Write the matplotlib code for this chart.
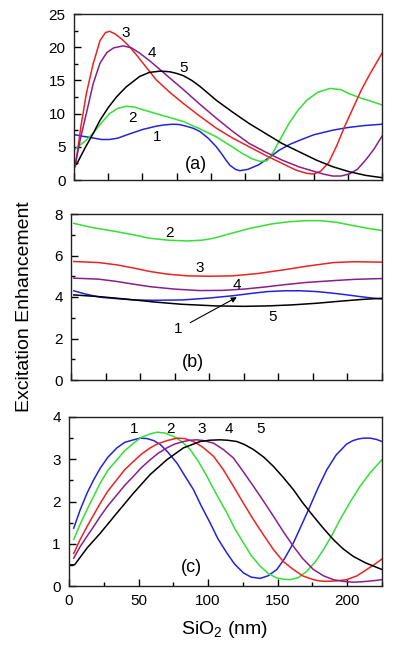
import matplotlib
matplotlib.use("Agg")
import matplotlib.pyplot as plt
from matplotlib.ticker import MultipleLocator, NullFormatter

plt.rcParams['font.family'] = ['Liberation Sans', 'DejaVu Sans']
plt.rcParams['mathtext.fontset'] = 'custom'
plt.rcParams['mathtext.rm'] = 'Liberation Sans'
plt.rcParams['mathtext.it'] = 'Liberation Sans:italic'

# ---------------- data ----------------
# panel (a)
a1_x = [1, 6, 12, 20, 26, 32, 40, 50, 60, 66, 72, 77, 82, 87, 92, 98, 104, 108, 111, 114, 118, 121, 127, 135, 142, 150, 158, 165, 175, 189, 200, 212, 225]
a1_y = [6.8, 6.6, 6.4, 6.1, 6.1, 6.3, 6.9, 7.6, 8.1, 8.3, 8.4, 8.35, 8.1, 7.8, 7.3, 6.3, 5.0, 3.9, 3.0, 2.2, 1.6, 1.4, 1.6, 2.3, 3.3, 4.5, 5.4, 6.0, 6.8, 7.5, 7.9, 8.2, 8.4]
a2_x = [0, 4, 9, 15, 20, 26, 32, 38, 44, 50, 60, 70, 80, 92, 104, 114, 123, 130, 136, 141, 145, 150, 157, 164, 170, 178, 187, 195, 201, 210, 218, 225]
a2_y = [4.5, 5.2, 6.0, 7.3, 8.6, 10.0, 10.8, 11.1, 11.0, 10.6, 10.0, 9.4, 8.8, 7.7, 6.5, 5.2, 4.0, 3.2, 2.8, 2.9, 4.0, 5.9, 8.5, 10.6, 12.0, 13.2, 13.8, 13.6, 13.0, 12.3, 11.8, 11.3]
a3_x = [1, 5, 9, 14, 19, 23, 26, 30, 35, 40, 45, 50, 60, 70, 80, 92, 104, 116, 128, 140, 152, 162, 170, 175, 180, 186, 192, 198, 204, 210, 216, 225]
a3_y = [2.0, 8.0, 13.0, 17.5, 21.0, 22.2, 22.4, 22.0, 21.2, 20.2, 19.0, 17.7, 15.1, 13.2, 11.5, 9.6, 7.8, 6.3, 5.0, 3.7, 2.5, 1.5, 1.0, 0.9, 1.3, 2.6, 5.2, 8.2, 10.9, 13.6, 15.9, 19.1]
a4_x = [1, 5, 9, 14, 19, 24, 29, 36, 42, 48, 55, 63, 72, 80, 92, 104, 116, 128, 140, 152, 164, 177, 183, 189, 195, 201, 207, 213, 219, 225]
a4_y = [2.5, 6.5, 10.0, 14.5, 17.6, 19.2, 19.9, 20.2, 19.9, 19.1, 18.0, 16.6, 15.0, 13.6, 11.4, 9.3, 7.3, 5.5, 4.2, 3.0, 2.0, 1.2, 0.85, 0.6, 0.6, 0.9, 1.6, 3.0, 4.6, 6.6]
a5_x = [2, 8, 14, 19, 25, 31, 38, 48, 55, 63, 70, 75, 80, 86, 92, 104, 116, 128, 140, 152, 165, 177, 189, 201, 213, 225]
a5_y = [2.4, 4.8, 7.0, 9.0, 10.9, 12.5, 14.0, 15.6, 16.2, 16.4, 16.3, 16.05, 15.7, 15.0, 14.1, 12.0, 10.2, 8.5, 7.0, 5.5, 4.2, 3.0, 2.0, 1.25, 0.7, 0.35]

# panel (b)
b1_x = [2, 10, 21, 33, 45, 60, 81, 100, 117, 130, 142, 155, 166, 178, 190, 200, 209, 218, 225]
b1_y = [4.30, 4.15, 3.99, 3.92, 3.86, 3.84, 3.86, 3.95, 4.06, 4.17, 4.26, 4.30, 4.30, 4.26, 4.18, 4.10, 4.02, 3.95, 3.90]
b2_x = [2, 15, 33, 45, 57, 70, 84, 95, 103, 115, 129.5, 145, 158, 170, 180, 192, 202, 213, 225]
b2_y = [7.55, 7.35, 7.15, 7.0, 6.83, 6.74, 6.70, 6.74, 6.83, 7.05, 7.31, 7.52, 7.63, 7.68, 7.68, 7.6, 7.47, 7.33, 7.2]
b3_x = [2, 20, 33, 45, 57, 70, 84, 100, 117, 135, 154, 170, 190, 205, 225]
b3_y = [5.71, 5.66, 5.55, 5.40, 5.23, 5.10, 5.02, 5.00, 5.02, 5.13, 5.31, 5.48, 5.66, 5.70, 5.68]
b4_x = [2, 20, 33, 45, 57, 75, 93, 110, 125, 140, 154, 170, 190, 205, 225]
b4_y = [4.91, 4.86, 4.75, 4.62, 4.50, 4.38, 4.31, 4.32, 4.38, 4.48, 4.59, 4.70, 4.79, 4.85, 4.89]
b5_x = [2, 20, 40, 60, 80, 105, 125, 142, 160, 178, 195, 210, 225]
b5_y = [4.10, 4.02, 3.90, 3.76, 3.65, 3.57, 3.55, 3.57, 3.62, 3.70, 3.80, 3.88, 3.94]

# panel (c)
c1_x = [3.4, 8, 13, 18, 22.5, 28, 34.5, 40, 46.4, 51, 56, 61, 65.6, 71, 77.6, 83, 89.5, 95, 101.5, 107, 113.5, 119, 125.4, 131, 137.4, 143, 149.4, 155, 161.3, 167, 173.3, 179, 185.3, 192, 199.6, 204, 208, 212, 216.4, 221, 225]
c1_y = [1.37, 1.80, 2.20, 2.53, 2.79, 3.05, 3.27, 3.40, 3.46, 3.50, 3.49, 3.44, 3.35, 3.17, 2.91, 2.62, 2.28, 1.90, 1.49, 1.12, 0.78, 0.52, 0.31, 0.21, 0.18, 0.24, 0.39, 0.65, 1.02, 1.43, 1.89, 2.32, 2.75, 3.10, 3.36, 3.44, 3.48, 3.50, 3.50, 3.47, 3.42]
c2_x = [3.4, 8, 13, 18, 22.5, 28, 34.5, 40, 46.4, 52, 58.4, 63.2, 69, 75.2, 81, 87.1, 93, 99.1, 106, 113.5, 119, 125.4, 131, 137.4, 143, 149.4, 154, 159, 165, 171, 177, 182.9, 189, 194.8, 202, 209.2, 217, 225]
c2_y = [1.10, 1.46, 1.81, 2.14, 2.44, 2.74, 2.99, 3.20, 3.38, 3.52, 3.60, 3.64, 3.62, 3.54, 3.42, 3.23, 2.95, 2.60, 2.17, 1.73, 1.37, 1.02, 0.72, 0.47, 0.30, 0.19, 0.16, 0.15, 0.20, 0.35, 0.57, 0.86, 1.20, 1.57, 1.98, 2.36, 2.70, 2.99]
c3_x = [3.4, 8, 13, 18, 22.5, 28, 34.5, 40, 46.4, 52, 58.4, 64, 70.4, 77.6, 83, 89.5, 96, 103.9, 111, 118.2, 125, 132.6, 140, 147, 154, 161.3, 168, 175.7, 180, 185.3, 192, 199.6, 207, 214, 220, 225]
c3_y = [0.77, 1.10, 1.41, 1.70, 1.96, 2.25, 2.52, 2.75, 2.95, 3.12, 3.27, 3.37, 3.44, 3.50, 3.49, 3.42, 3.29, 3.07, 2.75, 2.36, 1.98, 1.57, 1.20, 0.86, 0.58, 0.39, 0.24, 0.15, 0.12, 0.11, 0.12, 0.15, 0.24, 0.39, 0.52, 0.64]
c4_x = [3.4, 8, 13, 18, 22.5, 28, 34.5, 40, 46.4, 52, 58.4, 64, 70.4, 76, 82.3, 87, 91.9, 97, 103.9, 111, 118.2, 125, 132.6, 140, 147, 154, 161.3, 168, 175.7, 183, 190, 197, 204.4, 210, 214, 220, 225]
c4_y = [0.66, 0.93, 1.18, 1.42, 1.65, 1.90, 2.16, 2.38, 2.60, 2.80, 2.99, 3.14, 3.27, 3.36, 3.42, 3.45, 3.46, 3.44, 3.38, 3.23, 3.03, 2.72, 2.36, 2.00, 1.65, 1.29, 0.94, 0.65, 0.39, 0.24, 0.15, 0.11, 0.09, 0.10, 0.11, 0.13, 0.15]
c5_x = [1, 4, 13, 22.5, 34.5, 46.4, 58.4, 70.4, 82.3, 94.3, 101, 108.6, 114, 120.6, 126, 132.6, 140, 147, 154, 161.3, 168, 175.7, 183, 190, 197, 204.4, 213, 225]
c5_y = [0.50, 0.50, 0.90, 1.25, 1.73, 2.20, 2.64, 2.99, 3.27, 3.42, 3.45, 3.46, 3.45, 3.42, 3.35, 3.23, 3.05, 2.83, 2.57, 2.28, 1.97, 1.65, 1.36, 1.10, 0.88, 0.70, 0.55, 0.39]

curve_labels = ['1', '2', '3', '4', '5']
colors = ['#2323dd', '#33e033', '#ee2222', '#8a1f8a', '#000000']

# ---------------- figure ----------------
fig = plt.figure(figsize=(4, 6.5), dpi=100)
W, H = 400, 650

def add_ax(left, top, right, bottom):
    return fig.add_axes([left / W, 1 - bottom / H, (right - left) / W, (bottom - top) / H])

axA = add_ax(74, 14, 382, 180)
axB = add_ax(71, 214, 382, 380)
axC = add_ax(69, 417, 382, 586)

panels = [
    (axA, [(a1_x, a1_y), (a2_x, a2_y), (a3_x, a3_y), (a4_x, a4_y), (a5_x, a5_y)]),
    (axB, [(b1_x, b1_y), (b2_x, b2_y), (b3_x, b3_y), (b4_x, b4_y), (b5_x, b5_y)]),
    (axC, [(c1_x, c1_y), (c2_x, c2_y), (c3_x, c3_y), (c4_x, c4_y), (c5_x, c5_y)]),
]
for ax, series in panels:
    for (xs, ys), col in zip(series, colors):
        ax.plot(xs, ys, color=col, lw=1.1, solid_joinstyle='round')
    ax.set_xlim(0, 225)
    for s in ax.spines.values():
        s.set_linewidth(1.0)
        s.set_color('#222222')
    ax.tick_params(which='both', direction='in', top=False, right=False,
                   labelsize=11, width=1.0, pad=6)
    ax.tick_params(which='major', length=5)
    ax.tick_params(which='minor', length=3)

# panel (a)
axA.set_ylim(0, 25)
axA.yaxis.set_major_locator(MultipleLocator(5))
axA.yaxis.set_minor_locator(MultipleLocator(2.5))
axA.xaxis.set_major_locator(MultipleLocator(25))
axA.xaxis.set_major_formatter(NullFormatter())
for t, (x, y) in zip(['3', '4', '5', '2', '1'], [(38, 22.2), (56.6, 19.2), (80.4, 16.9), (42.8, 9.3), (61, 6.5)]):
    axA.text(x, y, t, fontsize=11, ha='center', va='center')
axA.text(89, 2.4, '(a)', fontsize=13, ha='center', va='center')

# panel (b)
axB.set_ylim(0, 8)
axB.yaxis.set_major_locator(MultipleLocator(2))
axB.yaxis.set_minor_locator(MultipleLocator(1))
axB.xaxis.set_major_locator(MultipleLocator(25))
axB.xaxis.set_major_formatter(NullFormatter())
for t, (x, y) in zip(['2', '3', '4', '5'], [(71.6, 7.1), (93.3, 5.39), (120, 4.58), (146, 3.03)]):
    axB.text(x, y, t, fontsize=11, ha='center', va='center')
axB.annotate('1', xy=(120, 3.99), xytext=(77.6, 2.45), fontsize=11, ha='center', va='center',
             arrowprops=dict(arrowstyle='-|>', color='black', lw=0.8, mutation_scale=8,
                             shrinkA=4, shrinkB=0))
axB.text(88.5, 0.82, '(b)', fontsize=13, ha='center', va='center')

# panel (c)
axC.set_ylim(0, 4)
axC.yaxis.set_major_locator(MultipleLocator(1))
axC.yaxis.set_minor_locator(MultipleLocator(0.5))
axC.xaxis.set_major_locator(MultipleLocator(50))
axC.xaxis.set_minor_locator(MultipleLocator(25))
for t, x in zip(curve_labels, [47, 72.8, 95.5, 114.6, 137.4]):
    axC.text(x, 3.72, t, fontsize=11, ha='center', va='center')
axC.text(88.3, 0.43, '(c)', fontsize=13, ha='center', va='center')

fig.text(25 / W, 1 - 307 / H, 'Excitation Enhancement', rotation=90, fontsize=14,
         ha='center', va='center')
fig.text(225 / W, 1 - 629 / H, r'SiO$_\mathregular{2}$ (nm)', fontsize=14,
         ha='center', va='center')

fig.savefig('out.png', dpi=100)
